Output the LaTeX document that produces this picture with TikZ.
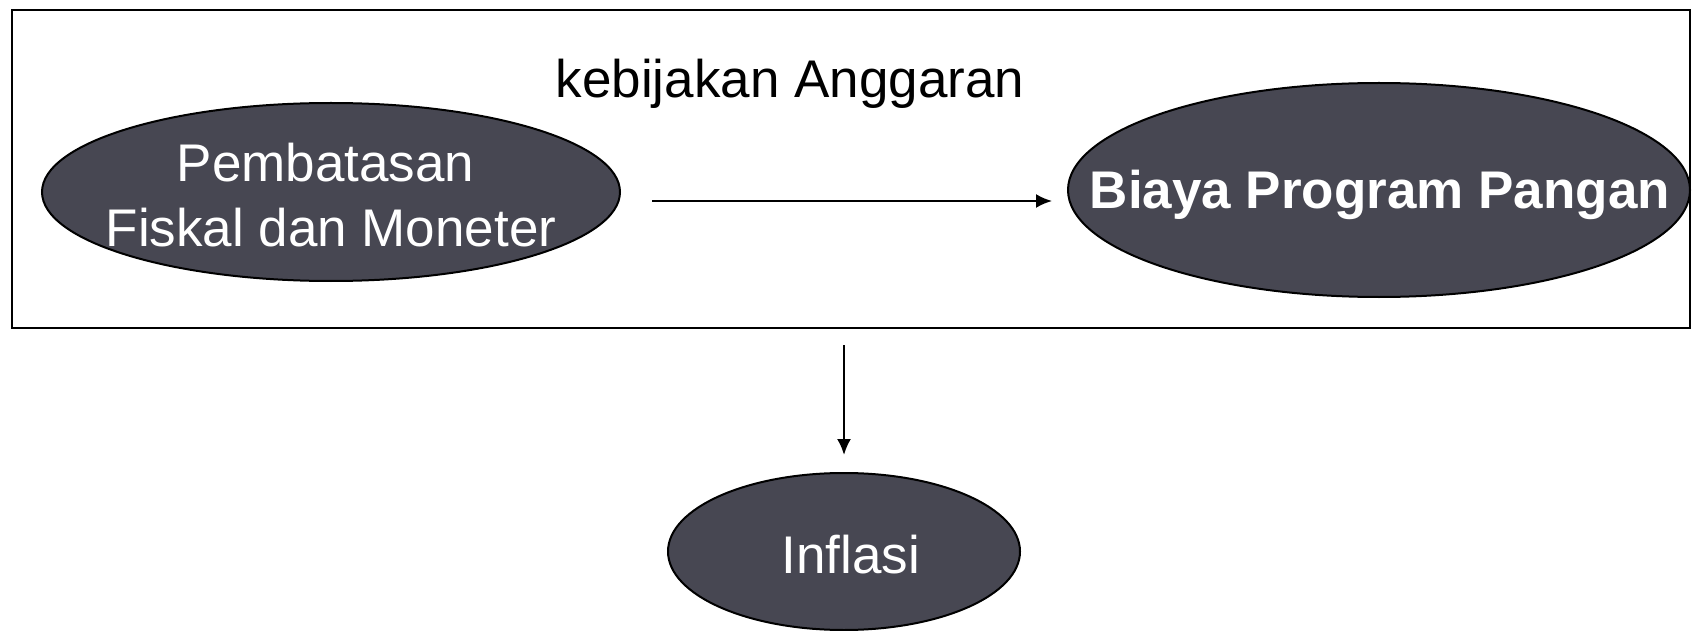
\documentclass[tikz,border=0pt]{standalone}
\usepackage{fontspec}
\setmainfont{Liberation Sans}
\usetikzlibrary{shapes.geometric,arrows.meta}
\definecolor{ovalfill}{RGB}{71,71,82}
\tikzset{
  oval/.style={ellipse, draw=black, line width=2pt, fill=ovalfill, inner sep=0pt},
  ovaltext/.style={text=white, align=center, inner sep=0pt, font=\fontsize{53}{65}\selectfont},
  conn/.style={line width=2.2pt, -{Latex[length=16pt,width=14pt]}},
  frame/.style={draw=black, line width=2pt, inner sep=0pt}
}
\begin{document}
\begin{tikzpicture}[x=1pt,y=-1pt]
\useasboundingbox (0,0) rectangle (1692,631);
\node[frame, minimum width=1678pt, minimum height=318pt] (box) at (851,169) {};
\node[oval, minimum width=578pt, minimum height=178pt] (L) at (331,192) {};
\node[ovaltext] (Lt) at (331,195) {\hspace*{-11pt}Pembatasan\\Fiskal dan Moneter};
\node[oval, minimum width=622pt, minimum height=214pt] (R) at (1379,190) {};
\node[ovaltext, font=\fontsize{53}{65}\selectfont\bfseries] (Rt) at (1380,195) {Biaya Program Pangan};
\node[oval, minimum width=352pt, minimum height=157pt] (I) at (844,551.5) {};
\node[ovaltext] (It) at (851,555) {Inflasi};
\node[inner sep=0pt, font=\fontsize{53}{65}\selectfont] (k) at (790,84) {kebijakan Anggaran};
\coordinate (h1) at (652,201);
\coordinate (h2) at (1052,201);
\draw[conn] (h1) -- (h2);
\draw[conn, shorten <=16pt, shorten >=17pt] (box.south -| I.north) -- (I.north);
\end{tikzpicture}
\end{document}
